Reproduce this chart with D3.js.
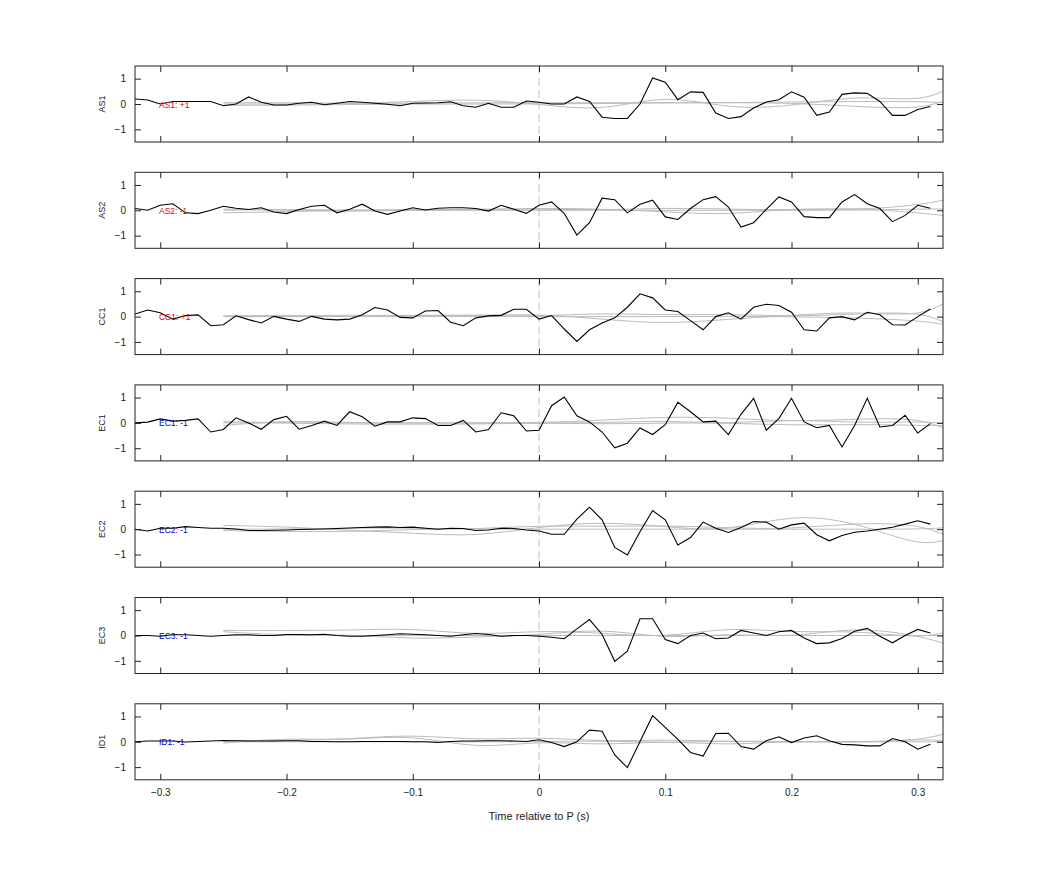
<!DOCTYPE html>
<html>
<head>
<meta charset="utf-8">
<script src="https://cdn.jsdelivr.net/npm/d3@7"></script>
<style>
  body { margin: 0; background: #fff; }
  text { font-family: "Liberation Sans", Arial, sans-serif; }
</style>
</head>
<body>
<svg id="chart" width="1042" height="875"></svg>
<script>
// stations and polarity labels
const stations = ['AS1', 'AS2', 'CC1', 'EC1', 'EC2', 'EC3', 'ID1'];
const polarity = ['+1', '-1', '+1', '-1', '-1', '-1', '-1'];
const labelColors = ['#e00000', '#e00000', '#e00000', '#0000c8', '#0000c8', '#0000c8', '#0000c8'];

// black traces: one sample every 0.01 s from -0.32 to 0.31
const traceTimes = d3.range(64).map(i => -0.32 + i * 0.01);
const traceAS1 = [0.2,0.16,0,0.1,0.1,0.1,0.1,-0.07,0,0.28,0.07,-0.04,-0.04,0.03,0.07,-0.03,0.03,0.1,0.07,0.03,-0.01,-0.07,0.03,0.04,0.05,0.09,-0.07,-0.13,0.03,-0.13,-0.13,0.12,
  0.07,0,0,0.28,0.1,-0.52,-0.57,-0.57,0,1.03,0.86,0.17,0.48,0.46,-0.36,-0.57,-0.5,-0.16,0.08,0.17,0.48,0.27,-0.45,-0.32,0.38,0.44,0.42,0.1,-0.45,-0.45,-0.22,-0.1];
const traceAS2 = [0.07,0,0.2,0.26,-0.1,-0.13,0,0.16,0.08,0.03,0.1,-0.07,-0.13,0.03,0.16,0.2,-0.1,0.04,0.24,-0.03,-0.16,-0.03,0.1,0.01,0.08,0.1,0.1,0.07,-0.03,0.2,0.04,-0.12,
  0.2,0.33,-0.13,-0.98,-0.49,0.48,0.42,-0.1,0.24,0.4,-0.26,-0.36,0.07,0.42,0.54,0.13,-0.66,-0.49,0.04,0.53,0.33,-0.25,-0.29,-0.29,0.33,0.62,0.26,0.07,-0.45,-0.2,0.2,0.08];
const traceCC1 = [0.1,0.26,0.15,-0.1,0.04,0.07,-0.36,-0.32,0.03,-0.12,-0.25,0.01,-0.1,-0.19,0.01,-0.1,-0.13,-0.1,0.07,0.36,0.26,-0.03,-0.05,0.22,0.24,-0.22,-0.36,-0.05,0.03,0.05,0.29,0.29,
  -0.1,0.04,-0.49,-0.98,-0.52,-0.25,-0.05,0.37,0.9,0.74,0.26,0.2,-0.16,-0.52,0,0.15,-0.1,0.37,0.49,0.44,0.17,-0.52,-0.57,-0.05,0,-0.13,0.17,0.07,-0.32,-0.33,0,0.3];
const traceEC1 = [0,0.03,0.16,0.07,0.1,0.16,-0.36,-0.26,0.2,0,-0.25,0.13,0.26,-0.25,-0.1,0.07,-0.1,0.44,0.24,-0.13,0.04,0.04,0.2,0.17,-0.1,-0.1,0.1,-0.36,-0.26,0.4,0.28,-0.32,
  -0.29,0.68,1.02,0.28,0.04,-0.36,-0.98,-0.8,-0.2,-0.46,-0.07,0.81,0.44,0.04,0.07,-0.46,0.34,0.97,-0.29,0.17,0.97,0.04,-0.19,-0.1,-0.95,-0.1,0.97,-0.16,-0.1,0.3,-0.4,-0.03];
const traceEC2 = [0,-0.07,0.04,0.04,0.1,0.07,0.04,0.04,0.01,-0.05,-0.05,-0.04,-0.03,-0.01,0,0.01,0.03,0.05,0.07,0.08,0.09,0.07,0.08,0.04,0,0.04,0.03,-0.05,-0.03,0.04,0.03,-0.03,
  -0.07,-0.2,-0.2,0.4,0.87,0.37,-0.72,-1.02,-0.1,0.74,0.37,-0.62,-0.33,0.28,0.04,-0.13,0.07,0.3,0.28,0,0.17,0.24,-0.22,-0.46,-0.25,-0.12,-0.07,0,0.08,0.2,0.33,0.2];
const traceEC3 = [0,0,-0.03,0.03,0.03,0,-0.03,0,0.03,0.03,0,0,0.04,0.04,0.03,0.05,0,-0.03,-0.03,0,0.03,0.07,0.05,0.03,0,-0.03,0.03,0.08,0.04,-0.03,0,0,
  -0.03,-0.07,-0.13,0.26,0.63,0.04,-1.02,-0.62,0.66,0.66,-0.16,-0.32,0,0.1,-0.13,-0.1,0.2,0.1,0,0.15,0.2,-0.1,-0.32,-0.29,-0.12,0.17,0.28,-0.03,-0.29,0,0.24,0.1];
const traceID1 = [0,0.03,0.03,0.03,-0.01,0.01,0.03,0.05,0.04,0.03,0.03,0.03,0.04,0.04,0.01,0.01,0,0,0.01,0.01,0.01,0.01,0,0,-0.03,0.01,0.03,0.03,0.04,0.04,0.03,0.01,
  0.08,-0.03,-0.19,0,0.46,0.42,-0.52,-1.02,0.01,1.03,0.57,0.1,-0.42,-0.56,0.33,0.34,-0.19,-0.29,0.04,0.2,-0.03,0.15,0.24,0.04,-0.1,-0.12,-0.16,-0.16,0.13,0,-0.29,-0.1];
const traces = [traceAS1, traceAS2, traceCC1, traceEC1, traceEC2, traceEC3, traceID1];

// grey (synthetic) traces, sampled coarsely
const greyTimes = [-0.25,-0.2,-0.15,-0.1,-0.05,0,0.05,0.1,0.15,0.2,0.25,0.3,0.32];
const greyAS1 = [[0,0,0,0.1,0.2,0,-0.3,0.4,-0.2,-0.1,0.35,0.1,0.5],
  [-0.05,-0.05,-0.02,0,0,0,0.02,0.05,0.05,0.05,-0.1,-0.2,0.1],
  [0.05,0.05,0.03,0.03,0.05,0.05,0.05,0.05,0.05,0.08,0.1,0.1,0.05]];
const greyAS2 = [[-0.1,-0.05,0,0.05,0,0.1,0.05,-0.05,-0.2,0.1,0,0.2,0.4],
  [0.05,0,-0.05,0,0.05,0.05,0,0.1,0.05,0,0.1,-0.1,-0.2],
  [0,0.05,0,0,0,0,0,0,0,0,0,0.05,0.05]];
const greyCC1 = [[0,0,0,0.05,0.05,0.1,-0.1,-0.3,-0.1,0.05,0.2,0,0.5],
  [0.03,0.05,0.05,0.05,0.05,0,0.15,0.05,0.1,0,0.1,0.2,-0.2],
  [0,0,0,0,0,0,0,0,0,0,-0.05,-0.15,-0.3]];
const greyEC1 = [[-0.1,0.1,0,0,0,0,0.1,0.25,0.2,0.05,0.15,0.2,-0.2],
  [0.05,0,-0.05,-0.05,-0.05,0,0,0.1,-0.05,0.15,0,0.05,0],
  [0,0,0,0,0,0,-0.05,0,0,-0.1,-0.05,-0.1,-0.1]];
const greyEC2 = [[0.15,0.1,-0.05,-0.15,-0.3,0.1,0.3,0.1,-0.1,0.6,0.3,-0.65,-0.45],
  [-0.05,-0.1,-0.1,0,0,0.15,0.1,0.15,0.05,0,0.25,0.2,-0.2],
  [0,0,0.05,0.05,0,0,0,0,0,0,0,0,0.05]];
const greyEC3 = [[0.2,0.2,0.2,0.3,0,0.2,0.1,-0.1,0.35,0.1,0.2,-0.1,0.1],
  [0.15,0,0.05,-0.15,-0.05,0,0.3,-0.15,0.1,-0.1,0.35,0,-0.3],
  [0,0,0,0,0,0,0,0,0,0,0,0,0]];
const greyID1 = [[0.05,0.05,0.1,0.3,0.05,0.2,0,0.1,0,0,0,0.05,0.3],
  [-0.05,0.15,0.05,0.3,-0.3,0.05,-0.15,0.05,-0.15,0.05,-0.05,0.1,0.05],
  [0,0,0,0,0,0,0.05,-0.05,0.05,0,0,0,0]];
const greys = [greyAS1, greyAS2, greyCC1, greyEC1, greyEC2, greyEC3, greyID1];

const xTicks = [-0.3, -0.2, -0.1, 0, 0.1, 0.2, 0.3];
const yTicks = [-1, 0, 1];

const left = 135, right = 943, top0 = 66, panelH = 76, step = 106.3;
const svg = d3.select('#chart');
const x = d3.scaleLinear().domain([-0.32, 0.32]).range([left, right]);

stations.forEach((name, i) => {
  const top = top0 + i * step;
  const y = d3.scaleLinear().domain([-1.5, 1.5]).range([top + panelH, top]);
  const g = svg.append('g');

  g.append('defs').append('clipPath').attr('id', 'clip' + i)
    .append('rect').attr('x', left).attr('y', top).attr('width', right - left).attr('height', panelH);

  const body = g.append('g').attr('clip-path', `url(#clip${i})`);

  // zero line at P arrival
  body.append('line')
    .attr('x1', x(0)).attr('x2', x(0)).attr('y1', top).attr('y2', top + panelH)
    .attr('stroke', '#b99').attr('stroke-width', 0.7).attr('stroke-dasharray', '8,4');

  const greyLine = d3.line().x((d, j) => x(greyTimes[j])).y(d => y(d)).curve(d3.curveBasis);
  greys[i].forEach(gr => {
    body.append('path').attr('d', greyLine(gr))
      .attr('fill', 'none').attr('stroke', '#bbb').attr('stroke-width', 1);
  });

  const line = d3.line().x((d, j) => x(traceTimes[j])).y(d => y(d));
  body.append('path').attr('d', line(traces[i]))
    .attr('fill', 'none').attr('stroke', '#000').attr('stroke-width', 1.1);

  // axes with inward ticks, MATLAB style
  const ax = d3.axisLeft(y).tickValues(yTicks).tickSize(-6).tickPadding(9).tickFormat(d3.format('d'));
  g.append('g').attr('transform', `translate(${left},0)`).call(ax);
  g.append('g').attr('transform', `translate(${right},0)`)
    .call(d3.axisRight(y).tickValues(yTicks).tickSize(-6).tickFormat(''));
  const bx = d3.axisBottom(x).tickValues(xTicks).tickSize(-6).tickPadding(9)
    .tickFormat(i === stations.length - 1 ? d3.format('') : '');
  g.append('g').attr('transform', `translate(0,${top + panelH})`).call(bx);
  g.append('g').attr('transform', `translate(0,${top})`)
    .call(d3.axisTop(x).tickValues(xTicks).tickSize(-6).tickFormat(''));
  g.selectAll('.domain').remove();
  g.selectAll('.tick line').attr('stroke', '#222');
  g.selectAll('.tick text').attr('font-size', 10).attr('fill', '#222')
    .attr('font-family', '"Liberation Sans", Arial, sans-serif');

  g.append('rect').attr('x', left).attr('y', top).attr('width', right - left).attr('height', panelH)
    .attr('fill', 'none').attr('stroke', '#222').attr('stroke-width', 1);

  g.append('text').attr('transform', `translate(105,${y(0)}) rotate(-90)`)
    .attr('text-anchor', 'middle').attr('font-size', 9).attr('fill', '#222').text(name);

  g.append('text').attr('x', x(-0.301)).attr('y', y(0) + 3.5)
    .attr('font-size', 8.5).attr('fill', labelColors[i]).text(`${name}: ${polarity[i]}`);
});

svg.append('text').attr('x', x(0)).attr('y', 820).attr('text-anchor', 'middle')
  .attr('font-size', 11).attr('fill', '#222').text('Time relative to P (s)');
</script>
</body>
</html>
